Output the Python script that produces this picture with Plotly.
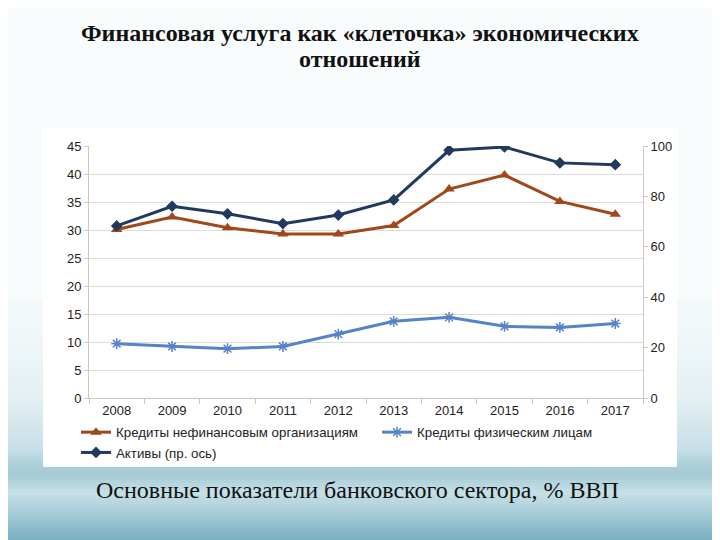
import plotly.graph_objects as go

years = ["2008", "2009", "2010", "2011", "2012", "2013", "2014", "2015", "2016", "2017"]
loans_corp = [30.1, 32.3, 30.4, 29.3, 29.3, 30.8, 37.3, 39.8, 35.1, 32.8]
loans_ind = [9.7, 9.2, 8.8, 9.2, 11.4, 13.7, 14.4, 12.8, 12.6, 13.3]
assets = [68.3, 76.1, 73.1, 69.2, 72.6, 78.6, 98.3, 99.6, 93.3, 92.6]

name_corp = "Кредиты нефинансовым организациям"
name_ind = "Кредиты физическим лицам"
name_assets = "Активы (пр. ось)"

title_line1 = "Финансовая услуга как «клеточка» экономических"
title_line2 = "отношений"
caption_text = "Основные показатели банковского сектора, % ВВП"

# the page body adds an 8px offset; the figure is sized to fit the 720x540 window
OFF = 8
W, H = 720 - OFF, 540 - OFF

# plot area in window pixels: x 89..643, y 146..398
ml, mt = 89 - OFF, 146 - OFF
mr = W - (643 - OFF)
mb = H - (398 - OFF)
ph = H - mt - mb
pw = W - ml - mr


def px(xwin):
    return (xwin - OFF - ml) / pw


def py(ywin):
    return (H - mb - (ywin - OFF)) / ph


fig = go.Figure()
fig.add_trace(go.Scatter(x=years, y=loans_corp, name=name_corp, mode="lines+markers",
                         legend="legend",
                         line=dict(color="#A0481A", width=3),
                         marker=dict(symbol="triangle-up", size=10, color="#A0481A")))
fig.add_trace(go.Scatter(x=years, y=loans_ind, name=name_ind, mode="lines+markers",
                         legend="legend2",
                         line=dict(color="#5683C8", width=3),
                         marker=dict(symbol="asterisk-open", size=9, color="#5683C8",
                                     line=dict(color="#5683C8", width=1.5))))
fig.add_trace(go.Scatter(x=years, y=assets, name=name_assets, mode="lines+markers", yaxis="y2",
                         legend="legend",
                         line=dict(color="#22395E", width=3),
                         marker=dict(symbol="diamond", size=9, color="#22395E")))


# background gradient (styling only)
def hex2rgb(h):
    h = h.lstrip("#")
    return tuple(int(h[i:i + 2], 16) for i in (0, 2, 4))


stops = [(0, "#f9fcfd"), (320, "#f3f9fb"), (400, "#e3eff3"), (450, "#c6dee6"),
         (466, "#a9cdd8"), (476, "#a6ccd7"), (492, "#c6e0e7"), (508, "#b0d2dc"),
         (540, "#78aebf")]


def color_at(y):
    for (y0, c0), (y1, c1) in zip(stops[:-1], stops[1:]):
        if y0 <= y <= y1:
            t = (y - y0) / (y1 - y0)
            a, b = hex2rgb(c0), hex2rgb(c1)
            return "rgb(%d,%d,%d)" % tuple(round(a[i] + (b[i] - a[i]) * t) for i in range(3))
    return stops[-1][1]


shapes = []
step = 3
y = 300
while y < 540:
    shapes.append(dict(type="rect", xref="paper", yref="paper",
                       x0=px(-10), x1=px(735), y0=py(y + step + 0.6), y1=py(y),
                       fillcolor=color_at(y + step / 2), line=dict(width=0), layer="below"))
    y += step

# white chart panel
shapes.append(dict(type="rect", xref="paper", yref="paper",
                   x0=px(43), x1=px(677), y0=py(467), y1=py(128),
                   fillcolor="white", line=dict(width=0), layer="below"))

title_font = dict(family="Liberation Serif", size=24, color="#111111")
annotations = [
    dict(text="<b>" + title_line1 + "</b>", xref="paper", yref="paper",
         x=px(360), y=py(33), xanchor="center", yanchor="middle", showarrow=False,
         font=title_font),
    dict(text="<b>" + title_line2 + "</b>", xref="paper", yref="paper",
         x=px(360), y=py(59), xanchor="center", yanchor="middle", showarrow=False,
         font=title_font),
    dict(text=caption_text, xref="paper", yref="paper",
         x=px(357), y=py(490), xanchor="center", yanchor="middle", showarrow=False,
         font=dict(family="Liberation Serif", size=24, color="#111111")),
]

axis_font = dict(family="Liberation Sans", size=13, color="#222222")
legend_font = dict(family="Liberation Sans", size=13.3, color="#222222")

fig.update_layout(
    width=W, height=H,
    margin=dict(l=ml, r=mr, t=mt, b=mb, pad=0),
    paper_bgcolor="#f9fcfd",
    plot_bgcolor="rgba(0,0,0,0)",
    shapes=shapes,
    annotations=annotations,
    showlegend=True,
    legend=dict(orientation="v", x=px(76), y=py(417), xanchor="left", yanchor="top",
                itemwidth=30, font=legend_font, bgcolor="rgba(0,0,0,0)",
                traceorder="normal"),
    legend2=dict(orientation="v", x=px(377), y=py(417), xanchor="left", yanchor="top",
                 itemwidth=30, font=legend_font, bgcolor="rgba(0,0,0,0)"),
    xaxis=dict(type="category", range=[-0.5, 9.5], showgrid=False, showline=True,
               linecolor="#c8c8c8", linewidth=1, ticks="outside", tickson="boundaries",
               ticklen=5, tickcolor="#c8c8c8", tickfont=axis_font, zeroline=False),
    yaxis=dict(range=[0, 45], dtick=5, showgrid=True, gridcolor="#dcdcdc", gridwidth=1,
               showline=True, linecolor="#c8c8c8", ticks="outside", ticklen=4,
               tickcolor="#c8c8c8", tickfont=axis_font, zeroline=False),
    yaxis2=dict(range=[0, 100], dtick=20, overlaying="y", side="right", showgrid=False,
                showline=True, linecolor="#c8c8c8", ticks="outside", ticklen=4,
                tickcolor="#c8c8c8", tickfont=axis_font, zeroline=False),
)

fig.write_html("out.html")
